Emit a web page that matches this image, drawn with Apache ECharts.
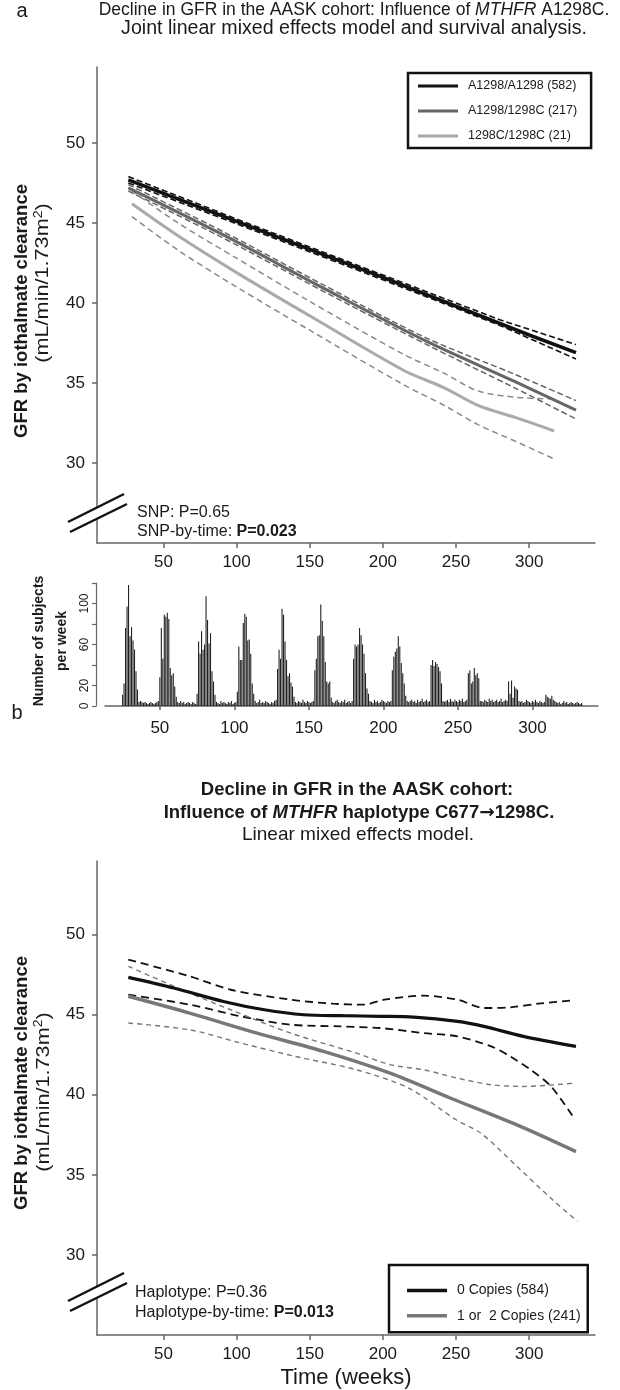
<!DOCTYPE html>
<html>
<head>
<meta charset="utf-8">
<script src="https://cdn.jsdelivr.net/npm/echarts@6/dist/echarts.min.js"></script>
<style>
html,body{margin:0;padding:0;background:#fff;}
#chart{width:620px;height:1390px;}
</style>
</head>
<body>
<div id="chart"></div>
<script>
// ---------- Panel a : joint model, MTHFR A1298C ----------
const namesA = ['A1298/A1298 (582)', 'A1298/1298C (217)', '1298C/1298C (21)'];
const blackA    = [[26,47.7],[100,45.1],[200,41.6],[300,38.0],[332,36.9]];
const blackAUp  = [[26,47.9],[100,45.25],[200,41.75],[280,38.95],[332,37.4]];
const blackALo  = [[26,47.5],[100,44.95],[200,41.45],[280,38.6],[332,36.5]];
const darkA     = [[26,47.2],[90,44.3],[160,40.9],[230,37.6],[290,35.1],[332,33.3]];
const darkAUp   = [[26,47.4],[90,44.5],[160,41.1],[230,37.8],[290,35.55],[332,33.9]];
const darkALo   = [[26,47.0],[90,44.1],[160,40.7],[230,37.4],[290,34.7],[332,32.75]];
const lightA    = [[28.5,46.2],[60,44.2],[100,41.9],[150,39.2],[214,35.8],[242,34.7],[265,33.6],[292,32.8],[317,32.0]];
const lightAUp  = [[28.5,47.0],[60,45.0],[100,42.8],[150,40.1],[214,36.8],[242,35.6],[265,34.5],[292,34.1],[317,34.0]];
const lightALo  = [[28.5,45.4],[60,43.3],[100,41.0],[150,38.3],[214,34.9],[242,33.6],[265,32.4],[292,31.3],[316,30.3]];

// ---------- Histogram : number of subjects per week ----------
const firstWeek = 25;
const weeklyCounts = [
  11,22,76,97,118,68,77,64,55,34,16,4,
  5,4,3,4,3,2,3,4,3,2,3,4,
  5,28,76,46,89,87,91,85,37,30,32,19,9,
  4,3,5,3,4,2,3,4,3,2,4,3,2,
  12,63,51,73,55,60,107,84,61,71,34,24,11,
  4,3,2,5,3,4,3,2,4,3,5,2,3,4,
  14,58,45,45,81,90,87,64,65,51,22,12,
  5,3,4,6,3,4,3,5,4,3,2,4,3,5,
  6,36,55,46,95,89,63,45,29,32,23,19,9,
  4,3,5,4,3,6,4,3,5,4,3,4,
  5,35,46,68,69,99,83,68,43,24,22,24,8,
  4,3,5,6,4,3,5,4,6,3,4,5,3,
  5,46,60,58,60,76,69,60,51,32,17,12,
  5,4,3,6,4,5,3,4,6,5,4,3,5,4,
  5,35,48,53,56,68,58,42,32,22,10,5,
  4,5,6,4,5,3,6,4,5,7,4,5,6,4,
  5,40,45,39,43,41,38,34,22,5,
  4,5,6,4,7,5,4,6,5,4,6,5,7,4,5,6,
  32,35,22,24,37,30,32,27,5,
  5,4,6,5,4,7,5,6,4,5,6,4,5,7,4,5,6,
  5,24,12,25,8,19,17,16,5,
  4,5,3,4,6,5,4,3,5,4,6,4,3,5,4,3,4,
  11,9,8,7,10,6,5,
  4,3,4,2,3,5,3,4,2,3,4,3,2,3,4,3,2,3
];
const histYTicks = [0,20,40,60,80,100,120];
const histYLabels = [0,20,60,100];

// ---------- Panel b : haplotype C677->1298C ----------
const namesB = ['0 Copies (584)', '1 or  2 Copies (241)'];
const blackB   = [[26,47.33],[57,46.67],[91,45.83],[119,45.31],[146,45.0],[173,44.94],[198,44.9],[221,44.85],[251,44.58],[269,44.27],[296,43.65],[332,43.02]];
const blackBUp = [[26,48.44],[68,47.4],[96,46.56],[137,45.94],[166,45.69],[187,45.63],[201,45.94],[228,46.19],[251,45.94],[269,45.42],[287,45.46],[306,45.69],[331,45.9]];
const blackBLo = [[26,46.25],[68,45.63],[103,44.9],[137,44.38],[171,44.27],[198,44.17],[228,43.85],[251,43.65],[274,43.02],[287,42.4],[301,41.56],[315,40.52],[331,38.5]];
const grayB    = [[26,46.15],[68,45.1],[114,43.85],[160,42.7],[205,41.35],[246,39.8],[292,38.1],[332,36.45]];
const grayBUp  = [[26,48.02],[68,46.35],[96,45.31],[137,43.85],[182,42.6],[205,41.88],[228,41.56],[251,41.04],[274,40.63],[296,40.52],[331,40.73]];
const grayBLo  = [[26,44.48],[68,44.06],[100,43.3],[140,42.4],[182,41.56],[218,40.4],[250,38.44],[267,37.6],[292,35.5],[316,33.44],[333,32.1]];

const xTicks = [50,100,150,200,250,300];
const yTicks = [30,35,40,45,50];

// ---------- helpers ----------
const FONT = 'Liberation Sans, Arial, Helvetica, sans-serif';
const AX = '#666';
const TXT = '#1a1a1a';

function mainX(gi){
  return {
    type:'value', gridIndex:gi, min:4.6, max:345,
    axisLine:{show:true, lineStyle:{color:AX, width:1.5}},
    axisTick:{show:true, length:5, lineStyle:{color:AX, width:1.5}, customValues:xTicks},
    axisLabel:{color:TXT, fontSize:17, fontFamily:FONT, margin:11, customValues:xTicks},
    splitLine:{show:false}
  };
}
function mainY(gi, max){
  return {
    type:'value', gridIndex:gi, min:25, max:max,
    axisLine:{show:true, lineStyle:{color:AX, width:1.5}},
    axisTick:{show:true, length:5, lineStyle:{color:AX, width:1.5}, customValues:yTicks},
    axisLabel:{color:TXT, fontSize:17, fontFamily:FONT, margin:12, customValues:yTicks},
    splitLine:{show:false}
  };
}
function solid(name, data, gi, color, w, smooth){
  return {type:'line', name:name, data:data, xAxisIndex:gi, yAxisIndex:gi, symbol:'none', showSymbol:false,
    smooth:smooth, lineStyle:{color:color, width:w}, itemStyle:{color:color}, z:3, silent:true};
}
function dashed(data, gi, color, w, dash, smooth){
  return {type:'line', name:'ci', data:data, xAxisIndex:gi, yAxisIndex:gi, symbol:'none', showSymbol:false,
    smooth:smooth, lineStyle:{color:color, width:w, type:dash}, itemStyle:{color:color}, z:2, silent:true};
}
function txt(x, y, text, size, opts){
  opts = opts || {};
  return {type:'text', x:x, y:y, rotation:opts.rot || 0, z:100, silent:true,
    scaleX: opts.sx || 1, scaleY: opts.sy || 1,
    style:{text:text, fontSize:size, fontFamily:FONT, fontWeight:opts.bold ? 'bold':'normal',
      fontStyle: opts.italic ? 'italic' : 'normal',
      fill:TXT, align:opts.align || 'center', verticalAlign:'middle', rich:opts.rich}};
}
function brk(y1){
  // axis break marks ("//") on the y axis
  return [
    {type:'polygon', z:99, silent:true, shape:{points:[[68,y1+28],[124,y1],[127,y1+10],[70,y1+38]]}, style:{fill:'#fff'}},
    {type:'line', z:100, silent:true, shape:{x1:68, y1:y1+28, x2:124, y2:y1}, style:{stroke:'#111', lineWidth:2.5}},
    {type:'line', z:100, silent:true, shape:{x1:70, y1:y1+38, x2:127, y2:y1+10}, style:{stroke:'#111', lineWidth:2.5}}
  ];
}
const unitRich = {
  n:{fontSize:18.5, fontFamily:FONT, fill:TXT},
  s:{fontSize:12, fontFamily:FONT, fill:TXT, verticalAlign:'top', padding:[0,0,9,0]}
};

const histData = weeklyCounts.map((v,i)=>[firstWeek+i, v]);

const chart = echarts.init(document.getElementById('chart'), null, {renderer:'canvas'});
chart.setOption({
  animation:false,
  backgroundColor:'#fff',
  grid:[
    {left:97, right:25, top:67, height:476},
    {left:105, right:22, top:583, height:123},
    {left:97, right:25, top:861, height:474}
  ],
  xAxis:[
    mainX(0),
    {type:'value', gridIndex:1, min:13.2, max:344, offset:4.5,
      axisLine:{show:true, lineStyle:{color:AX, width:1.5}},
      axisTick:{show:true, length:4, lineStyle:{color:AX, width:1.5}, customValues:xTicks},
      axisLabel:{color:TXT, fontSize:17, fontFamily:FONT, margin:9, customValues:xTicks},
      splitLine:{show:false}},
    mainX(2)
  ],
  yAxis:[
    mainY(0, 54.75),
    {type:'value', gridIndex:1, min:0, max:120, offset:9,
      axisLine:{show:true, lineStyle:{color:AX, width:1.2}},
      axisTick:{show:true, length:4, lineStyle:{color:AX, width:1.2}, customValues:histYTicks},
      axisLabel:{color:TXT, fontSize:12, fontFamily:FONT, margin:5, rotate:90, customValues:histYLabels},
      splitLine:{show:false}},
    mainY(2, 54.6)
  ],
  legend:[
    {left:408, top:73, orient:'vertical', icon:'rect', itemWidth:40, itemHeight:3, itemGap:11,
      padding:[6,14,5,10], borderColor:'#111', borderWidth:2.5, backgroundColor:'#fff',
      data:namesA, textStyle:{fontSize:12.5, lineHeight:14, fontFamily:FONT, color:TXT, padding:[0,0,0,5]}, selectedMode:false},
    {left:389, top:1265, orient:'vertical', icon:'rect', itemWidth:40, itemHeight:3.5, itemGap:10.3,
      padding:[18,7,9,18], borderColor:'#111', borderWidth:2.5, backgroundColor:'#fff',
      data:namesB, textStyle:{fontSize:14, lineHeight:15, fontFamily:FONT, color:TXT, padding:[0,0,0,5]}, selectedMode:false}
  ],
  series:[
    dashed(blackAUp, 0, '#111', 1.6, [6,3], false),
    dashed(blackALo, 0, '#111', 1.6, [6,3], false),
    dashed(darkAUp, 0, '#666', 1.5, [6,3], 0.3),
    dashed(darkALo, 0, '#666', 1.5, [6,3], 0.3),
    dashed(lightAUp, 0, '#8a8a8a', 1.5, [6,4], 0.3),
    dashed(lightALo, 0, '#8a8a8a', 1.5, [6,4], 0.3),
    solid(namesA[0], blackA, 0, '#111', 3.5, false),
    solid(namesA[1], darkA, 0, '#666', 3, 0.3),
    solid(namesA[2], lightA, 0, '#aaa', 3, 0.3),
    {type:'bar', name:'hist', data:histData, xAxisIndex:1, yAxisIndex:1, barWidth:1.1,
      itemStyle:{color:'#222'}, silent:true},
    dashed(blackBUp, 2, '#111', 1.8, [8,5], 0.3),
    dashed(blackBLo, 2, '#111', 1.8, [8,5], 0.3),
    dashed(grayBUp, 2, '#777', 1.4, [5,4], 0.3),
    dashed(grayBLo, 2, '#777', 1.4, [5,4], 0.3),
    solid(namesB[0], blackB, 2, '#111', 3.2, 0.3),
    solid(namesB[1], grayB, 2, '#777', 3.5, 0.3)
  ],
  graphic:[
    txt(22, 11, 'a', 20),
    txt(354, 10, '{n|Decline in GFR in the AASK cohort: Influence of }{i|MTHFR}{n| A1298C.}', 17.5,
      {rich:{n:{fontSize:17.5, fontFamily:FONT, fill:TXT}, i:{fontSize:17.5, fontFamily:FONT, fontStyle:'italic', fill:TXT}}}),
    txt(354, 29, 'Joint linear mixed effects model and survival analysis.', 19.6),
    txt(21.5, 311, 'GFR by iothalmate clearance', 18.5, {rot:Math.PI/2, bold:true}),
    txt(43, 283, '{n|(mL/min/1.73m}{s|2}{n|)}', 18.5, {rot:Math.PI/2, sx:1.17, rich:unitRich}),
    txt(137, 513, 'SNP: P=0.65', 16, {align:'left'}),
    txt(137, 532, '{n|SNP-by-time: }{b|P=0.023}', 16, {align:'left',
      rich:{n:{fontSize:16, fontFamily:FONT, fill:TXT}, b:{fontSize:16, fontFamily:FONT, fontWeight:'bold', fill:TXT}}}),
    txt(39.5, 641, 'Number of subjects', 14, {rot:Math.PI/2, bold:true}),
    txt(62, 641, 'per week', 14, {rot:Math.PI/2, bold:true}),
    txt(17, 713, 'b', 20),
    txt(357, 790, 'Decline in GFR in the AASK cohort:', 18.5, {bold:true}),
    txt(359, 813, '{n|Influence of }{i|MTHFR}{n| haplotype C677}{a|\u2192}{n|1298C.}', 18.5,
      {rich:{n:{fontSize:18.5, fontFamily:FONT, fontWeight:'bold', fill:TXT},
             i:{fontSize:18.5, fontFamily:FONT, fontWeight:'bold', fontStyle:'italic', fill:TXT},
             a:{fontSize:18.5, fontFamily:'DejaVu Sans', fontWeight:'bold', fill:TXT}}}),
    txt(358, 835, 'Linear mixed effects model.', 19),
    txt(21.5, 1083, 'GFR by iothalmate clearance', 18.5, {rot:Math.PI/2, bold:true}),
    txt(43.5, 1092, '{n|(mL/min/1.73m}{s|2}{n|)}', 18.5, {rot:Math.PI/2, sx:1.17, rich:unitRich}),
    txt(135, 1293, 'Haplotype: P=0.36', 16, {align:'left'}),
    txt(135, 1313, '{n|Haplotype-by-time: }{b|P=0.013}', 16, {align:'left',
      rich:{n:{fontSize:16, fontFamily:FONT, fill:TXT}, b:{fontSize:16, fontFamily:FONT, fontWeight:'bold', fill:TXT}}}),
    txt(346, 1378, 'Time (weeks)', 22)
  ].concat(brk(494)).concat(brk(1273))
});
</script>
</body>
</html>
